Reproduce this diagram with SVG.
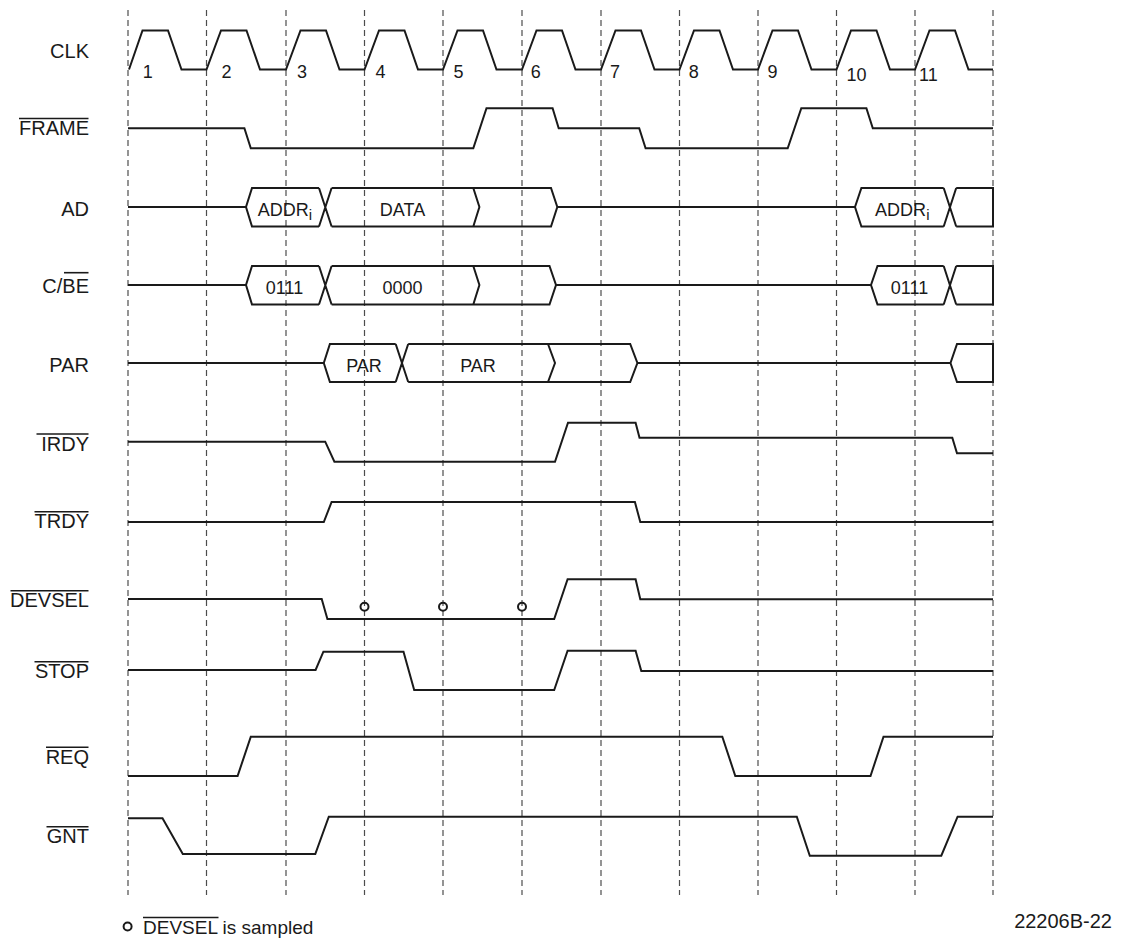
<svg xmlns="http://www.w3.org/2000/svg" width="1122" height="939" viewBox="0 0 1122 939">
<style>
text{font-family:"Liberation Sans",Arial,Helvetica,sans-serif;fill:#1a1a1a}
.lbl{font-size:20px;text-anchor:end}
.bus{font-size:18px;text-anchor:middle}
.sub{font-size:15px}
.num{font-size:18px}
.w{fill:none;stroke:#1a1a1a;stroke-width:2;stroke-linejoin:miter}
.ol{stroke:#1a1a1a;stroke-width:1.6}
.grid{stroke:#4d4d4d;stroke-width:1.2;stroke-dasharray:6 4}
.smp{fill:none;stroke:#1a1a1a;stroke-width:2}
</style>
<rect width="1122" height="939" fill="#fff"/>
<g id="grid">
<line class="grid" x1="128" y1="10" x2="128" y2="895"/>
<line class="grid" x1="206.5" y1="10" x2="206.5" y2="895"/>
<line class="grid" x1="286" y1="10" x2="286" y2="895"/>
<line class="grid" x1="364.5" y1="10" x2="364.5" y2="895"/>
<line class="grid" x1="443" y1="10" x2="443" y2="895"/>
<line class="grid" x1="522" y1="10" x2="522" y2="895"/>
<line class="grid" x1="601" y1="10" x2="601" y2="895"/>
<line class="grid" x1="679.5" y1="10" x2="679.5" y2="895"/>
<line class="grid" x1="758" y1="10" x2="758" y2="895"/>
<line class="grid" x1="836.5" y1="10" x2="836.5" y2="895"/>
<line class="grid" x1="915" y1="10" x2="915" y2="895"/>
<line class="grid" x1="993" y1="10" x2="993" y2="895"/>
</g>
<g id="sig-clk">
<text class="lbl" x="89" y="58">CLK</text>
<path class="w" d="M129 69.5 L142.5 30.5 L168 30.5 L181.5 69.5 L206.5 69.5 L221 30.5 L246.5 30.5 L260 69.5 L286 69.5 L300.5 30.5 L326 30.5 L339.5 69.5 L364.5 69.5 L379 30.5 L404.5 30.5 L418 69.5 L443 69.5 L457.5 30.5 L483 30.5 L496.5 69.5 L522 69.5 L536.5 30.5 L562 30.5 L575.5 69.5 L601 69.5 L615.5 30.5 L641 30.5 L654.5 69.5 L679.5 69.5 L694 30.5 L719.5 30.5 L733 69.5 L758 69.5 L772.5 30.5 L798 30.5 L811.5 69.5 L836.5 69.5 L851 30.5 L876.5 30.5 L890 69.5 L915 69.5 L929.5 30.5 L955 30.5 L968.5 69.5 L993 69.5"/>
<text class="num" x="142.7" y="78.3">1</text>
<text class="num" x="221.5" y="78.3">2</text>
<text class="num" x="297" y="78.3">3</text>
<text class="num" x="375.5" y="78.3">4</text>
<text class="num" x="453.5" y="78.3">5</text>
<text class="num" x="530.8" y="78.3">6</text>
<text class="num" x="610" y="78.3">7</text>
<text class="num" x="688.8" y="78.3">8</text>
<text class="num" x="767.5" y="78.3">9</text>
<text class="num" x="846.5" y="80.7">10</text>
<text class="num" x="919" y="80.7">11</text>
</g>
<g id="sig-frame">
<text class="lbl" x="89" y="135">FRAME</text>
<line class="ol" x1="19" y1="118.5" x2="88.5" y2="118.5"/>
<path class="w" d="M128 128.3 H244.4 L250.8 148.3 H473.3 L486.5 108.3 H552.6 L558.7 128.3 H639.2 L645.6 148.3 H787.7 L801.3 108.3 H866.4 L872.8 128.3 H993"/>
</g>
<g id="sig-ad">
<text class="lbl" x="89" y="216">AD</text>
<path class="w" d="M128 207 H246 M319 188 H252 L246 207 L252 226.5 H319 M319 188 L331.6 226.5 M319 226.5 L331.6 188 M331.6 188 H551 L557.3 207 L551 226.5 H331.6 M473.3 188 L479.4 207 L473.3 226.5 M557.3 207 H855 M943.7 188 H861.4 L855 207 L861.4 226.5 H943.7 M943.7 188 L956.2 226.5 M943.7 226.5 L956.2 188 M956.2 188 H993 V226.5 H956.2"/>
<text class="bus" x="285" y="215.5">ADDR<tspan class="sub" dy="4.5">i</tspan></text>
<text class="bus" x="402.5" y="215.5">DATA</text>
<text class="bus" x="902.3" y="215.5">ADDR<tspan class="sub" dy="4.5">i</tspan></text>
</g>
<g id="sig-cbe">
<text class="lbl" x="89" y="292.5">C/BE</text>
<line class="ol" x1="64" y1="272.7" x2="88.5" y2="272.7"/>
<path class="w" d="M128 285 H246 M319 266 H252 L246 285 L252 304.5 H319 M319 266 L331.6 304.5 M319 304.5 L331.6 266 M331.6 266 H549.5 L556 285 L549.5 304.5 H331.6 M473.3 266 L479.4 285 L473.3 304.5 M556 285 H871 M943.7 266 H877.5 L871 285 L877.5 304.5 H943.7 M943.7 266 L956.2 304.5 M943.7 304.5 L956.2 266 M956.2 266 H993 V304.5 H956.2"/>
<text class="bus" x="284.5" y="293.5">0111</text>
<text class="bus" x="402.5" y="293.5">0000</text>
<text class="bus" x="909.5" y="293.5">0111</text>
</g>
<g id="sig-par">
<text class="lbl" x="89" y="372">PAR</text>
<path class="w" d="M128 363 H323.8 M395.7 344 H329.9 L323.8 363 L329.9 382 H395.7 M395.7 344 L408.2 382 M395.7 382 L408.2 344 M408.2 344 H630.2 L637.4 363 L630.2 382 H408.2 M548 344 L555 363 L548 382 M637.4 363 H950.5 M993 344 H957 L950.5 363 L957 382 H993 Z"/>
<text class="bus" x="364" y="371.5">PAR</text>
<text class="bus" x="478" y="371.5">PAR</text>
</g>
<g id="sig-irdy">
<text class="lbl" x="89" y="451">IRDY</text>
<line class="ol" x1="36.5" y1="434" x2="88.5" y2="434"/>
<path class="w" d="M128 441.7 H325.2 L334.4 461.7 H555 L568 422.7 H635.6 L639.5 437.7 H952.3 L957 453.3 H993"/>
</g>
<g id="sig-trdy">
<text class="lbl" x="89" y="528.3">TRDY</text>
<line class="ol" x1="34.5" y1="511.7" x2="88.5" y2="511.7"/>
<path class="w" d="M128 522 H323.8 L331.6 502 H634.9 L640.3 522 H993"/>
</g>
<g id="sig-devsel">
<text class="lbl" x="89" y="607.3">DEVSEL</text>
<line class="ol" x1="10.5" y1="590.7" x2="88.5" y2="590.7"/>
<path class="w" d="M128 599 H321.7 L327.4 619 H554.2 L567.6 579.3 H635.6 L640.3 599.3 H993"/>
<circle class="smp" cx="364.5" cy="606.7" r="4"/>
<circle class="smp" cx="443" cy="606.7" r="4"/>
<circle class="smp" cx="522" cy="606.7" r="4"/>
</g>
<g id="sig-stop">
<text class="lbl" x="89" y="678.3">STOP</text>
<line class="ol" x1="34.5" y1="661.7" x2="88.5" y2="661.7"/>
<path class="w" d="M128 670 H315.6 L323.4 651.7 H403.5 L414.2 690 H554.2 L567.6 650.7 H635.6 L641.3 671 H993"/>
</g>
<g id="sig-req">
<text class="lbl" x="89" y="764.3">REQ</text>
<line class="ol" x1="46" y1="747.3" x2="88.5" y2="747.3"/>
<path class="w" d="M128 776 H237.6 L250.8 736.7 H722.3 L735.3 776 H870.5 L883.5 736.7 H993"/>
</g>
<g id="sig-gnt">
<text class="lbl" x="89" y="843.3">GNT</text>
<line class="ol" x1="46.5" y1="826.7" x2="88.5" y2="826.7"/>
<path class="w" d="M128 818.3 H162.5 L182.8 854 H315.3 L328.8 816.7 H796.8 L809.8 855.7 H941.3 L957.6 816.7 H993"/>
</g>
<g id="legend">
<circle class="smp" cx="127.6" cy="926.5" r="4"/>
<text x="143" y="934" font-size="19">DEVSEL is sampled</text>
<line class="ol" x1="143" y1="917.5" x2="218.5" y2="917.5"/>
</g>
<g id="figure-id">
<text x="1112" y="928" font-size="20" text-anchor="end">22206B-22</text>
</g>
</svg>
